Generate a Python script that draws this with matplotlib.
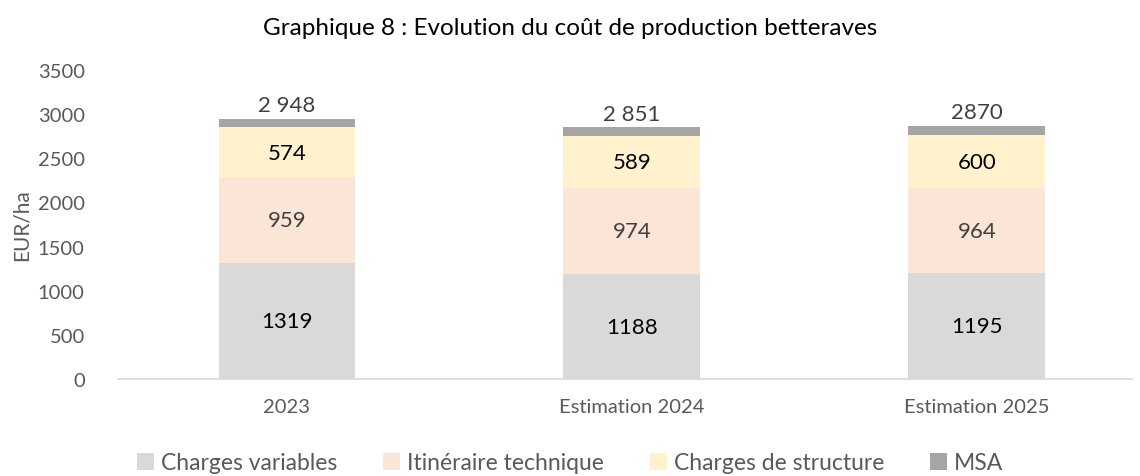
import matplotlib
matplotlib.use("Agg")
import matplotlib.pyplot as plt
from matplotlib.patches import Patch

plt.rcParams['font.family'] = ['Lato', 'DejaVu Sans']

categories = ["2023", "Estimation 2024", "Estimation 2025"]
series_names = ["Charges variables", "Itinéraire technique", "Charges de structure", "MSA"]
charges_variables = [1319, 1188, 1195]
itineraire_technique = [959, 974, 964]
charges_structure = [574, 589, 600]
msa = [96, 100, 111]
total_labels = ["2 948", "2 851", "2870"]

colors = ["#D9D9D9", "#FBE5D6", "#FFF2CC", "#A5A5A5"]
label_colors = ["#000000", "#404040", "#000000", None]

fig = plt.figure(figsize=(11.4, 4.77), dpi=100)
ax = fig.add_axes([118/1140, 97/477, (1132-118)/1140, (380-71)/477])

x = list(range(len(categories)))
width = 0.397
bottoms = [0, 0, 0]
data = [charges_variables, itineraire_technique, charges_structure, msa]
for vals, col, lc in zip(data, colors, label_colors):
    ax.bar(x, vals, width, bottom=bottoms, color=col, edgecolor='none', zorder=2)
    if lc is not None:
        for xi, v, b in zip(x, vals, bottoms):
            ax.text(xi, b + v / 2, str(v), ha='center', va='center', fontsize=16, color=lc)
    bottoms = [b + v for b, v in zip(bottoms, vals)]

for xi, b, t in zip(x, bottoms, total_labels):
    ax.text(xi, b + 40, t, ha='center', va='bottom', fontsize=16, color='#404040')

ax.set_ylim(0, 3500)
ax.set_xlim(-0.49, 2.45)
ax.set_yticks(range(0, 3501, 500))
ax.set_xticks(x)
ax.set_xticklabels(categories)
ax.tick_params(axis='both', length=0, labelsize=14.5, colors='#595959')
ax.tick_params(axis='x', pad=14)
ax.tick_params(axis='y', pad=24)
for s in ['top', 'right', 'left']:
    ax.spines[s].set_visible(False)
ax.spines['bottom'].set_color('#D9D9D9')
ax.spines['bottom'].set_linewidth(1.2)
ax.set_ylabel("EUR/ha", fontsize=15, color='#595959', labelpad=4)

fig.text(0.5, 0.94, "Graphique 8 : Evolution du coût de production betteraves",
         ha='center', va='center', fontsize=17.5, color='#000000')

handles = [Patch(facecolor=c, edgecolor='none') for c in colors]
fig.legend(handles, series_names, loc='center', bbox_to_anchor=(0.5, 0.028), ncol=4,
           frameon=False, fontsize=16.5, labelcolor='#595959', handlelength=0.75,
           handleheight=0.75, handletextpad=0.3, columnspacing=2.0)

fig.savefig("out.png", dpi=100)
